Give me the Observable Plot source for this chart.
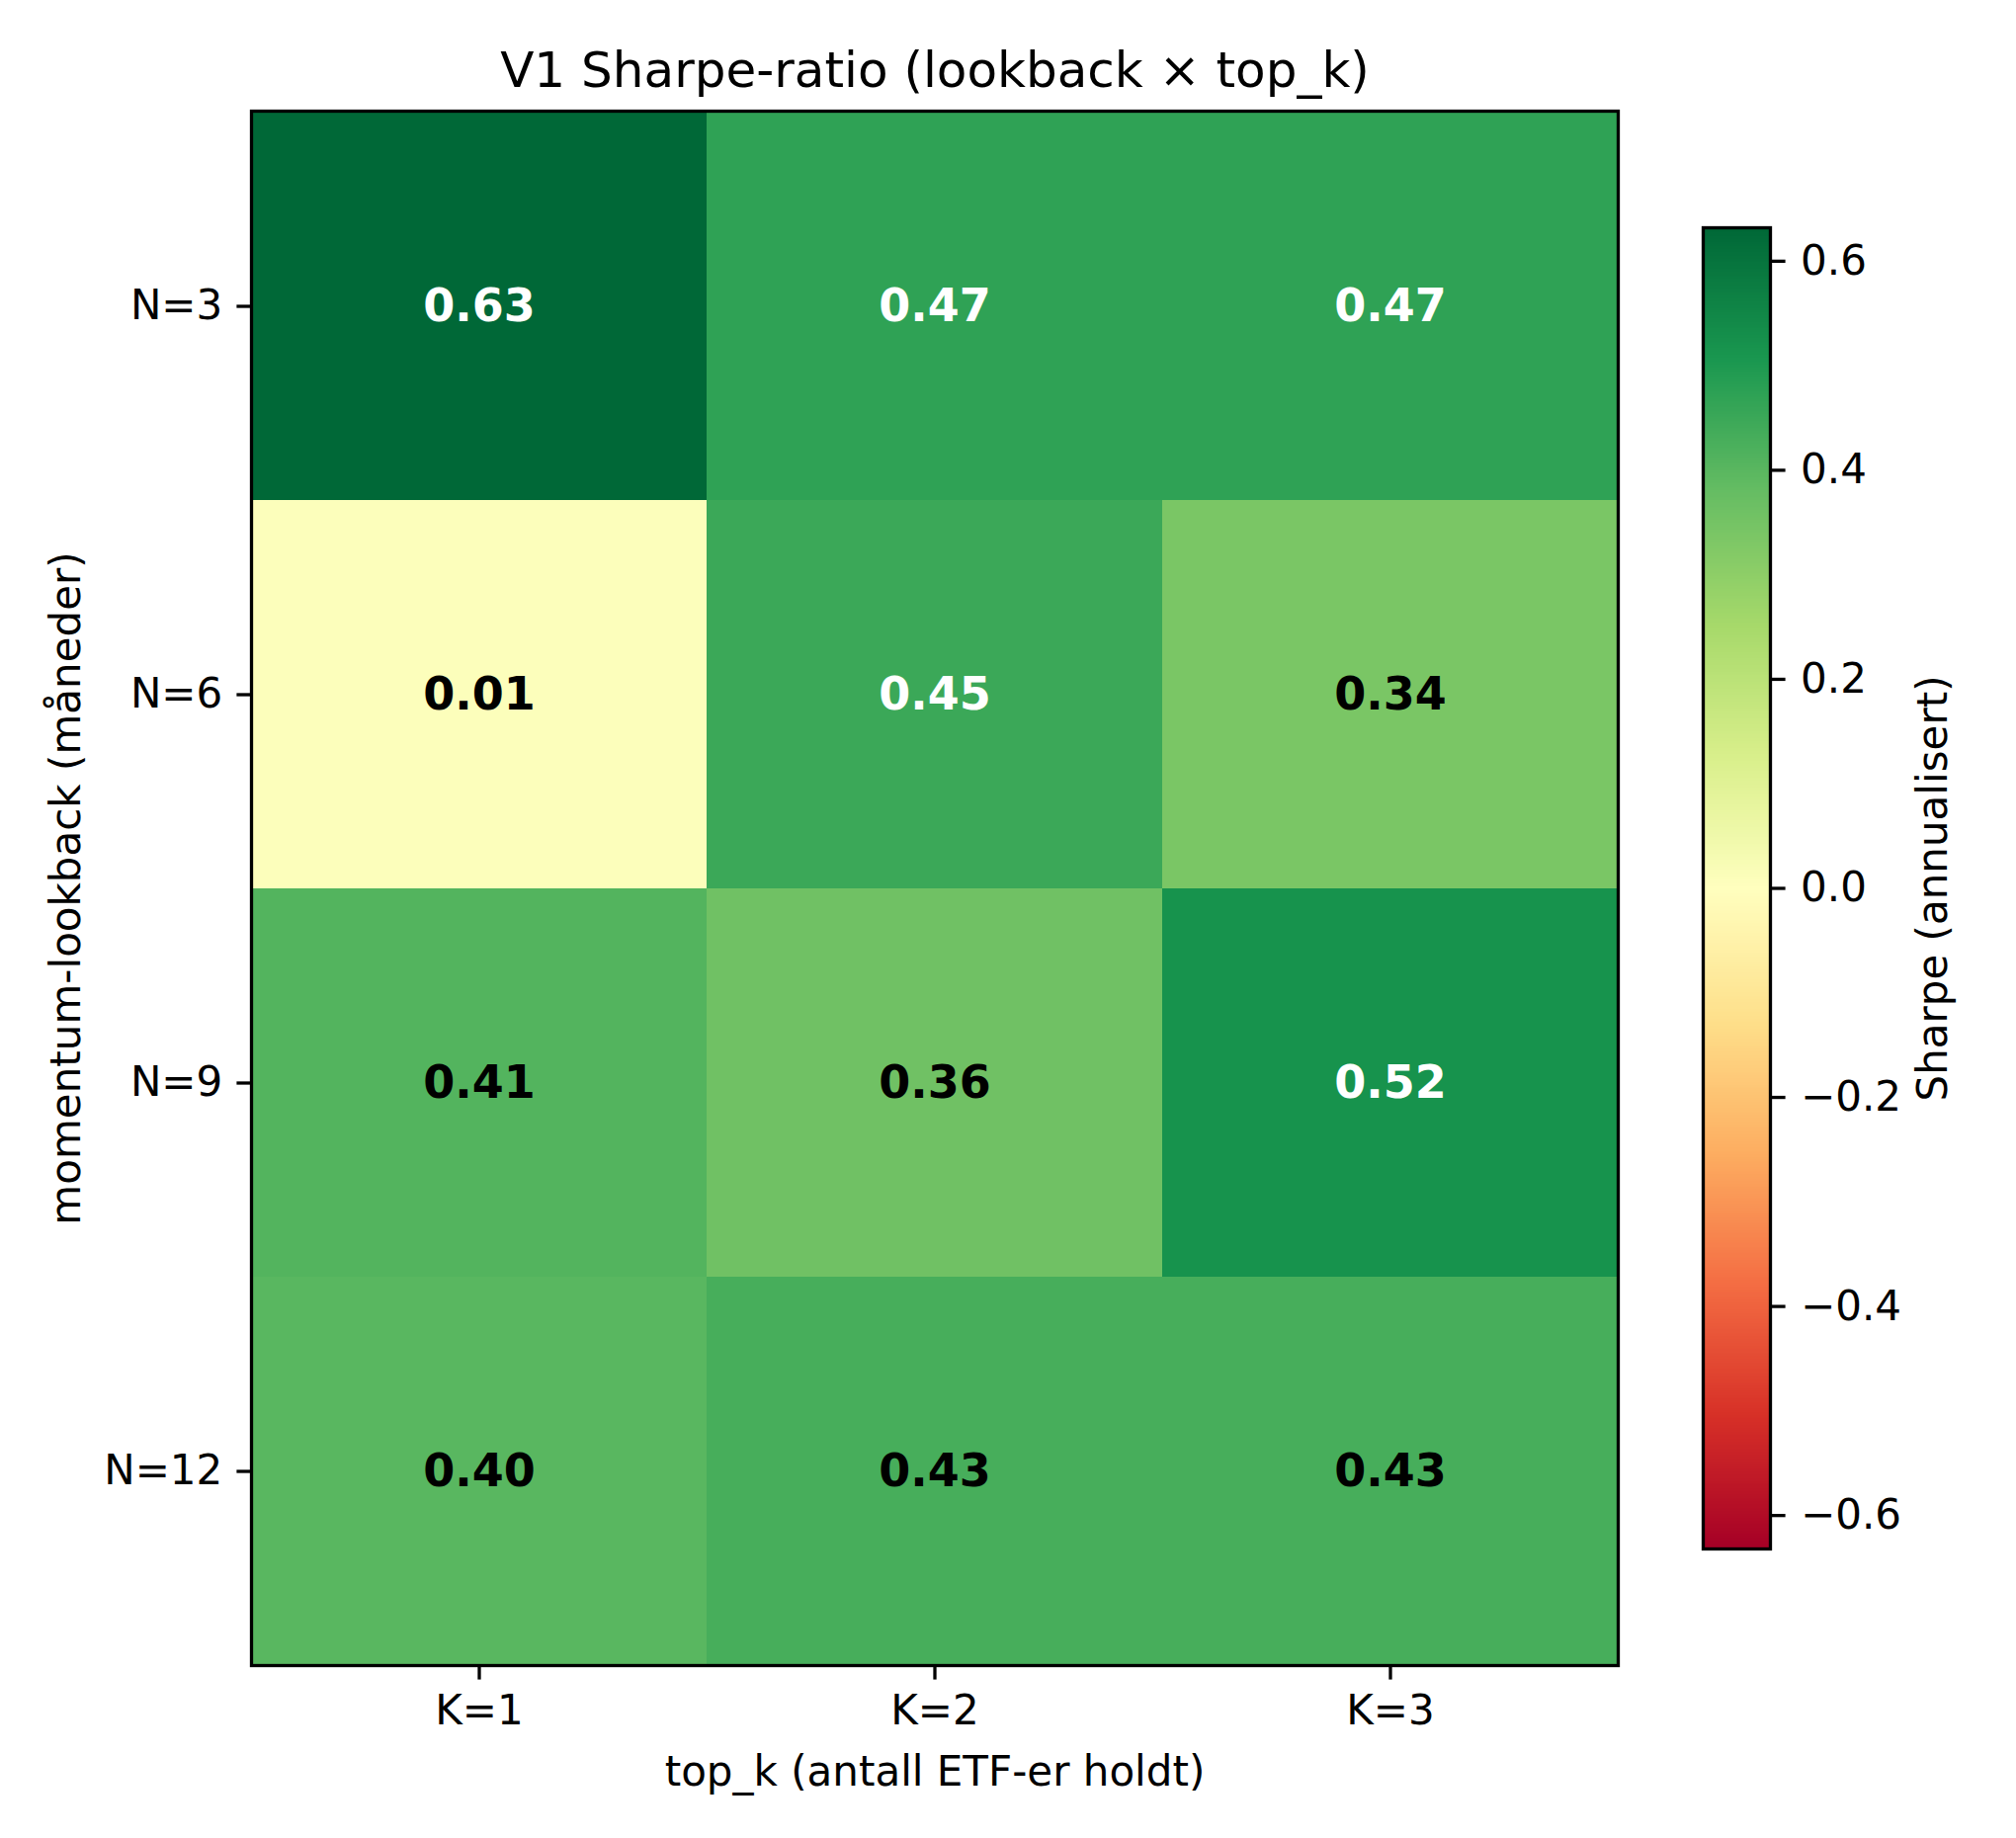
<!DOCTYPE html>
<html>
<head>
<meta charset="utf-8">
<script src="https://cdn.jsdelivr.net/npm/d3@7"></script>
<script src="https://cdn.jsdelivr.net/npm/@observablehq/plot@0.6"></script>
<style>
  html, body { margin: 0; padding: 0; background: #fff; }
  #wrap { position: relative; width: 2040px; height: 1860px; font-family: "DejaVu Sans", sans-serif; }
  #wrap > div { position: absolute; top: 0; }
</style>
</head>
<body>
<div id="wrap"><div id="main" style="left:0"></div><div id="cbar" style="left:1700px"></div></div>
<script>
// ---- data ----
const kLabels = ["K=1", "K=2", "K=3"];
const nLabels = ["N=3", "N=6", "N=9", "N=12"];
const sharpeRows = [
  [0.632, 0.47, 0.47],
  [0.01, 0.45, 0.34],
  [0.41, 0.36, 0.52],
  [0.40, 0.43, 0.43]
];
const cbarTicks = [-0.6, -0.4, -0.2, 0.0, 0.2, 0.4, 0.6];
const titleText = "V1 Sharpe-ratio (lookback × top_k)";
const xLabelText = "top_k (antall ETF-er holdt)";
const yLabelText = "momentum-lookback (måneder)";
const cbarLabelText = "Sharpe (annualisert)";

// matplotlib RdYlGn (linear through 11 ColorBrewer stops)
const RdYlGn = ["#a50026","#d73027","#f46d43","#fdae61","#fee08b","#ffffbf","#d9ef8b","#a6d96a","#66bd63","#1a9850","#006837"];
const interp = d3.piecewise(d3.interpolateRgb, RdYlGn);

const table = [];
nLabels.forEach((n, i) => kLabels.forEach((k, j) => table.push({n, k, v: sharpeRows[i][j]})));
const vmax = d3.max(table, d => Math.abs(d.v));
const colorScale = {type: "linear", domain: [-vmax, vmax], interpolate: interp};
const white = d => d.v > 0.44;

const font = "DejaVu Sans";
const lw = 3.3;

const main = Plot.plot({
  width: 2040,
  height: 1860,
  marginLeft: 254,
  marginRight: 403,
  marginTop: 112,
  marginBottom: 175,
  style: {fontFamily: font, fontSize: "42px", background: "white", color: "black"},
  x: {domain: kLabels, padding: 0},
  y: {domain: nLabels, padding: 0},
  color: colorScale,
  marks: [
    Plot.cell(table, {x: "k", y: "n", fill: "v", inset: 0}),
    Plot.text(table.filter(white), {x: "k", y: "n", text: d => d.v.toFixed(2), fill: "white", fontWeight: "bold", fontSize: 46}),
    Plot.text(table.filter(d => !white(d)), {x: "k", y: "n", text: d => d.v.toFixed(2), fill: "black", fontWeight: "bold", fontSize: 46}),
    Plot.frame({stroke: "black", strokeWidth: lw}),
    Plot.axisX({anchor: "bottom", label: null, tickSize: 14.6, tickPadding: 14.6, strokeWidth: lw, fontSize: 42}),
    Plot.axisY({anchor: "left", label: null, tickSize: 14.6, tickPadding: 14.6, strokeWidth: lw, fontSize: 42}),
    Plot.text([titleText], {frameAnchor: "top", lineAnchor: "middle", textAnchor: "middle", dy: -41, fontSize: 50, fill: "black"}),
    Plot.text([xLabelText], {frameAnchor: "bottom", lineAnchor: "middle", textAnchor: "middle", dy: 108, fontSize: 42, fill: "black"}),
    Plot.text([yLabelText], {frameAnchor: "left", lineAnchor: "middle", textAnchor: "middle", dx: -187, rotate: -90, fontSize: 42, fill: "black"})
  ]
});
document.getElementById("main").appendChild(main);

const cbar = Plot.plot({
  width: 340,
  height: 1860,
  marginLeft: 23,
  marginRight: 249,
  marginTop: 230,
  marginBottom: 293,
  style: {fontFamily: font, fontSize: "42px", background: "transparent", color: "black"},
  x: {domain: [0, 1], axis: null},
  y: {domain: [-vmax, vmax]},
  color: colorScale,
  marks: [
    Plot.raster({x1: 0, x2: 1, y1: -vmax, y2: vmax, width: 1, height: 400, fill: (x, y) => y, imageRendering: "auto"}),
    Plot.frame({stroke: "black", strokeWidth: lw}),
    Plot.axisY({anchor: "right", ticks: cbarTicks, tickFormat: d3.format(".1f"), label: null, tickSize: 14.6, tickPadding: 16, strokeWidth: lw, fontSize: 42}),
    Plot.text([cbarLabelText], {frameAnchor: "right", lineAnchor: "middle", textAnchor: "middle", dx: 165, rotate: -90, fontSize: 42, fill: "black"})
  ]
});
document.getElementById("cbar").appendChild(cbar);
</script>
</body>
</html>
